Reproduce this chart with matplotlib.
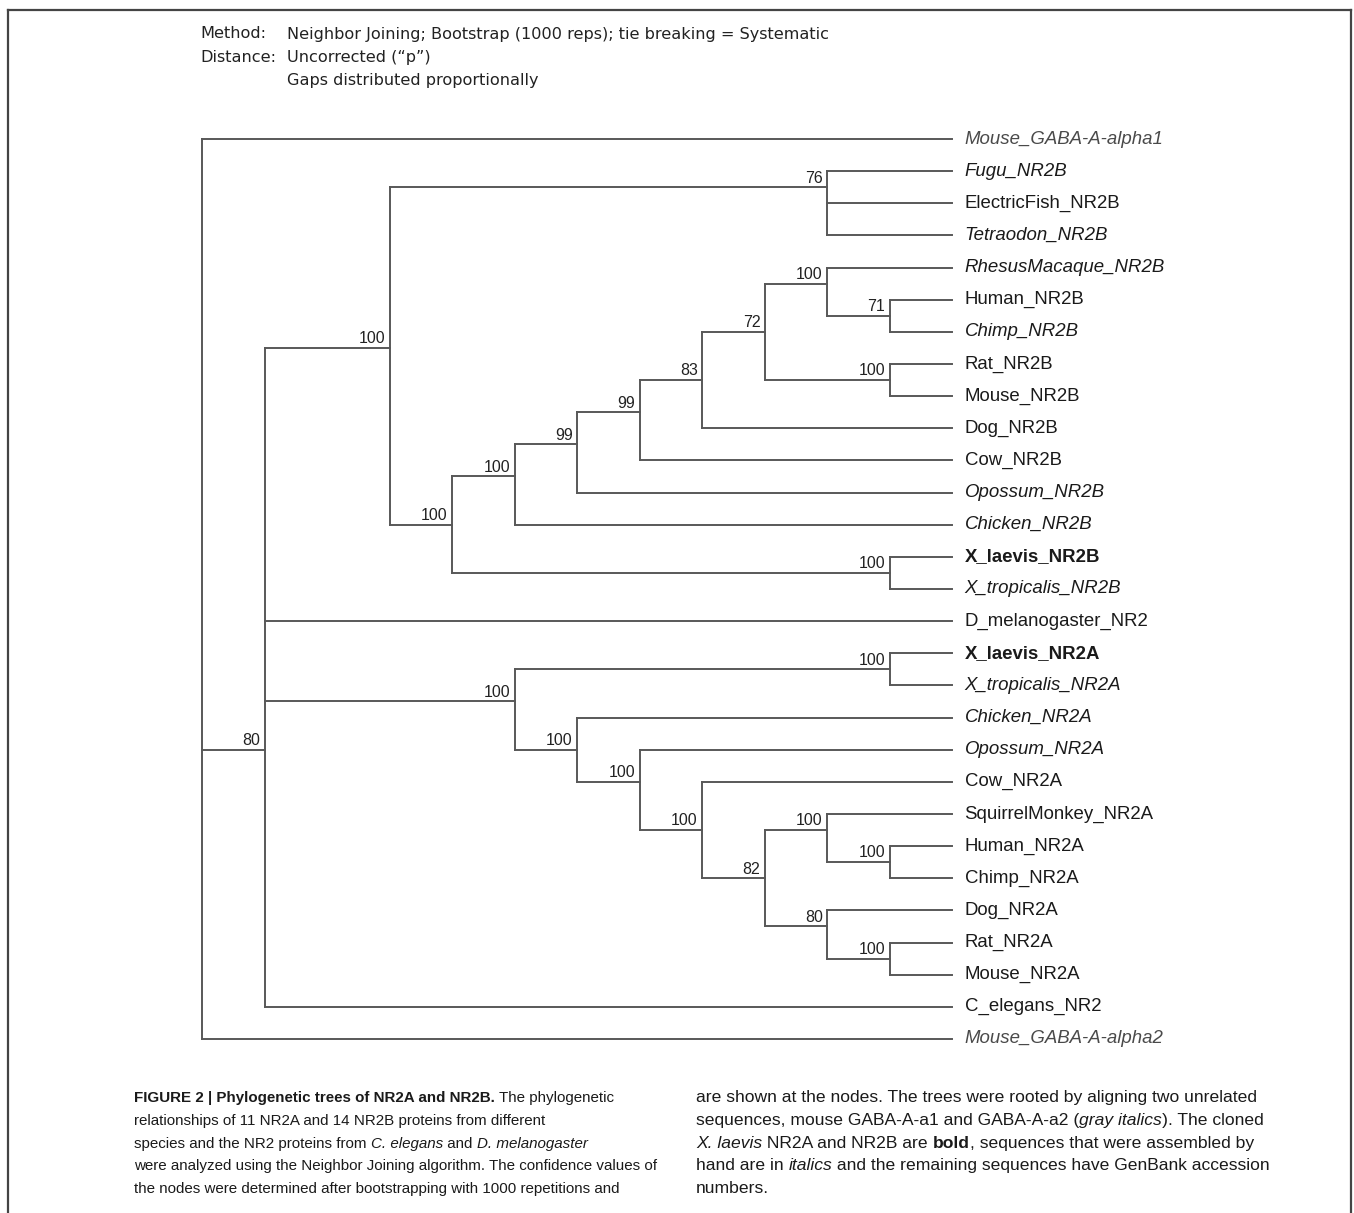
import matplotlib
matplotlib.use('Agg')
import matplotlib.pyplot as plt
from matplotlib import font_manager
from matplotlib.lines import Line2D
from matplotlib.transforms import IdentityTransform

W, H = 1354, 1213

# tips, top to bottom
tip_names = ['Mouse_GABA-A-alpha1', 'Fugu_NR2B', 'ElectricFish_NR2B', 'Tetraodon_NR2B',
             'RhesusMacaque_NR2B', 'Human_NR2B', 'Chimp_NR2B', 'Rat_NR2B', 'Mouse_NR2B',
             'Dog_NR2B', 'Cow_NR2B', 'Opossum_NR2B', 'Chicken_NR2B', 'X_laevis_NR2B',
             'X_tropicalis_NR2B', 'D_melanogaster_NR2', 'X_laevis_NR2A', 'X_tropicalis_NR2A',
             'Chicken_NR2A', 'Opossum_NR2A', 'Cow_NR2A', 'SquirrelMonkey_NR2A', 'Human_NR2A',
             'Chimp_NR2A', 'Dog_NR2A', 'Rat_NR2A', 'Mouse_NR2A', 'C_elegans_NR2',
             'Mouse_GABA-A-alpha2']
# n = normal, i = italic, b = bold, g = gray italic
tip_styles = ['g', 'i', 'n', 'i', 'i', 'n', 'i', 'n', 'n', 'n', 'n', 'i', 'i', 'b', 'i',
              'n', 'b', 'i', 'i', 'i', 'n', 'n', 'n', 'n', 'n', 'n', 'n', 'n', 'g']

# internal nodes: depth column, row, bootstrap, children (tip index or node name)
node_names = ['root', 'ingroup', 'nr2b', 'fish', 'nr2b_b', 'nr2b_c', 'nr2b_d', 'nr2b_e',
              'nr2b_f', 'nr2b_g', 'prim_b', 'hc_b', 'rm_b', 'xen_b', 'nr2a', 'xen_a',
              'nr2a_b', 'nr2a_c', 'nr2a_d', 'nr2a_e', 'prim_a', 'hc_a', 'dog_a', 'rm_a']
node_levels = [0, 1, 3, 10, 4, 5, 6, 7, 8, 9, 10, 11, 11, 11, 5, 11, 6, 7, 8, 9, 10, 11, 10, 11]
node_rows = [14, 19, 6.5, 1.5, 12, 10.5, 9.5, 8.5, 7.5, 6, 4.5, 5.5, 7.5, 13.5, 17.5, 16.5,
             19, 20, 21.5, 23, 21.5, 22.5, 24.5, 25.5]
node_support = [None, 80, 100, 76, 100, 100, 99, 99, 83, 72, 100, 71, 100, 100, 100, 100,
                100, 100, 100, 82, 100, 100, 80, 100]
node_children = [[0, 'ingroup', 28], ['nr2b', 15, 'nr2a', 27], ['fish', 'nr2b_b'], [1, 2, 3],
                 ['nr2b_c', 'xen_b'], ['nr2b_d', 12], ['nr2b_e', 11], ['nr2b_f', 10],
                 ['nr2b_g', 9], ['prim_b', 'rm_b'], [4, 'hc_b'], [5, 6], [7, 8], [13, 14],
                 ['xen_a', 'nr2a_b'], [16, 17], [18, 'nr2a_c'], [19, 'nr2a_d'], [20, 'nr2a_e'],
                 ['prim_a', 'dog_a'], [21, 'hc_a'], [22, 23], [24, 'rm_a'], [25, 26]]
TIP_LEVEL = 12

header_keys = ['Method:', 'Distance:', '']
header_vals = ['Neighbor Joining; Bootstrap (1000 reps); tie breaking = Systematic',
               'Uncorrected (\u201cp\u201d)', 'Gaps distributed proportionally']

caption_left = [
    [('FIGURE 2 | Phylogenetic trees of NR2A and NR2B.', 'b'), (' The phylogenetic', 'n')],
    [('relationships of 11 NR2A and 14 NR2B proteins from different', 'n')],
    [('species and the NR2 proteins from ', 'n'), ('C. elegans', 'i'), (' and ', 'n'),
     ('D. melanogaster', 'i')],
    [('were analyzed using the Neighbor Joining algorithm. The confidence values of', 'n')],
    [('the nodes were determined after bootstrapping with 1000 repetitions and', 'n')],
]
caption_right = [
    [('are shown at the nodes. The trees were rooted by aligning two unrelated', 'n')],
    [('sequences, mouse GABA-A-a1 and GABA-A-a2 (', 'n'), ('gray italics', 'i'),
     ('). The cloned', 'n')],
    [('X. laevis', 'i'), (' NR2A and NR2B are ', 'n'), ('bold', 'b'),
     (', sequences that were assembled by', 'n')],
    [('hand are in ', 'n'), ('italics', 'i'),
     (' and the remaining sequences have GenBank accession', 'n')],
    [('numbers.', 'n')],
]

installed = {f.name for f in font_manager.fontManager.ttflist}
SANS = 'Liberation Sans'
NARROW = 'Liberation Sans Narrow' if 'Liberation Sans Narrow' in installed else SANS

fig = plt.figure(figsize=(W / 100, H / 100), dpi=100)
ax = fig.add_axes([0, 0, 1, 1])
x0, dx = 202, 62.5
y0, dy = 139, 32.14
ax.set_xlim(-x0 / dx, (W - x0) / dx)
ax.set_ylim((H - y0) / dy, -y0 / dy)
ax.axis('off')

pos = {i: (TIP_LEVEL, i) for i in range(len(tip_names))}
for n, lv, rw in zip(node_names, node_levels, node_rows):
    pos[n] = (lv, rw)

lc = '#585858'
for n, kids, sup in zip(node_names, node_children, node_support):
    lv, rw = pos[n]
    rows = [pos[k][1] for k in kids]
    ax.plot([lv, lv], [min(rows), max(rows)], color=lc, lw=1.4, solid_capstyle='projecting')
    for k in kids:
        ax.plot([lv, pos[k][0]], [pos[k][1]] * 2, color=lc, lw=1.4, solid_capstyle='projecting')
    if sup is not None:
        ax.annotate(str(sup), (lv, rw), xytext=(-3, 1.2), textcoords='offset points',
                    ha='right', va='bottom', fontsize=11.5, family=SANS, color='#222222')

for i, (name, st) in enumerate(zip(tip_names, tip_styles)):
    ax.annotate(name, (TIP_LEVEL, i), xytext=(9, 0), textcoords='offset points',
                ha='left', va='center', fontsize=13.4, family=SANS,
                style='italic' if st in 'ig' else 'normal',
                weight='bold' if st == 'b' else 'normal',
                color='#4a4a4a' if st == 'g' else '#1a1a1a')

# header
for k, (key, val) in enumerate(zip(header_keys, header_vals)):
    y = H - (34 + 23.5 * k)
    fig.text(200, y, key, transform=IdentityTransform(), fontsize=11.65, family='DejaVu Sans',
             va='center', color='#222222')
    fig.text(287, y, val, transform=IdentityTransform(), fontsize=11.65, family='DejaVu Sans',
             va='center', color='#222222')

# caption with mixed styles
renderer = fig.canvas.get_renderer()


def style_kw(st, size):
    return dict(family=NARROW, fontsize=size, color='#1a1a1a',
                style='italic' if st == 'i' else 'normal',
                weight='bold' if st == 'b' else 'normal')


def width(s, st, size):
    a = fig.text(0, 0, '|' + s + '|', transform=IdentityTransform(), **style_kw(st, size))
    b = fig.text(0, 0, '||', transform=IdentityTransform(), **style_kw(st, size))
    w = a.get_window_extent(renderer).width - b.get_window_extent(renderer).width
    a.remove()
    b.remove()
    return w


def rich_line(x, y, parts, size):
    for s, st in parts:
        fig.text(x, y, s, transform=IdentityTransform(), va='baseline', **style_kw(st, size))
        x += width(s, st, size)


line_y = [1102, 1125, 1148, 1170, 1193]
for parts, y in zip(caption_left, line_y):
    rich_line(134, H - y, parts, 10.9)
for parts, y in zip(caption_right, line_y):
    rich_line(696, H - y, parts, 12.6)

# frame
fc = '#444444'
fig.add_artist(Line2D([8, 1351], [H - 10, H - 10], transform=IdentityTransform(), color=fc, lw=1.6))
fig.add_artist(Line2D([8, 8], [H - 10, 0], transform=IdentityTransform(), color=fc, lw=1.6))
fig.add_artist(Line2D([1351, 1351], [H - 10, 0], transform=IdentityTransform(), color=fc, lw=1.6))

fig.savefig('out.png', dpi=100, facecolor='white')
